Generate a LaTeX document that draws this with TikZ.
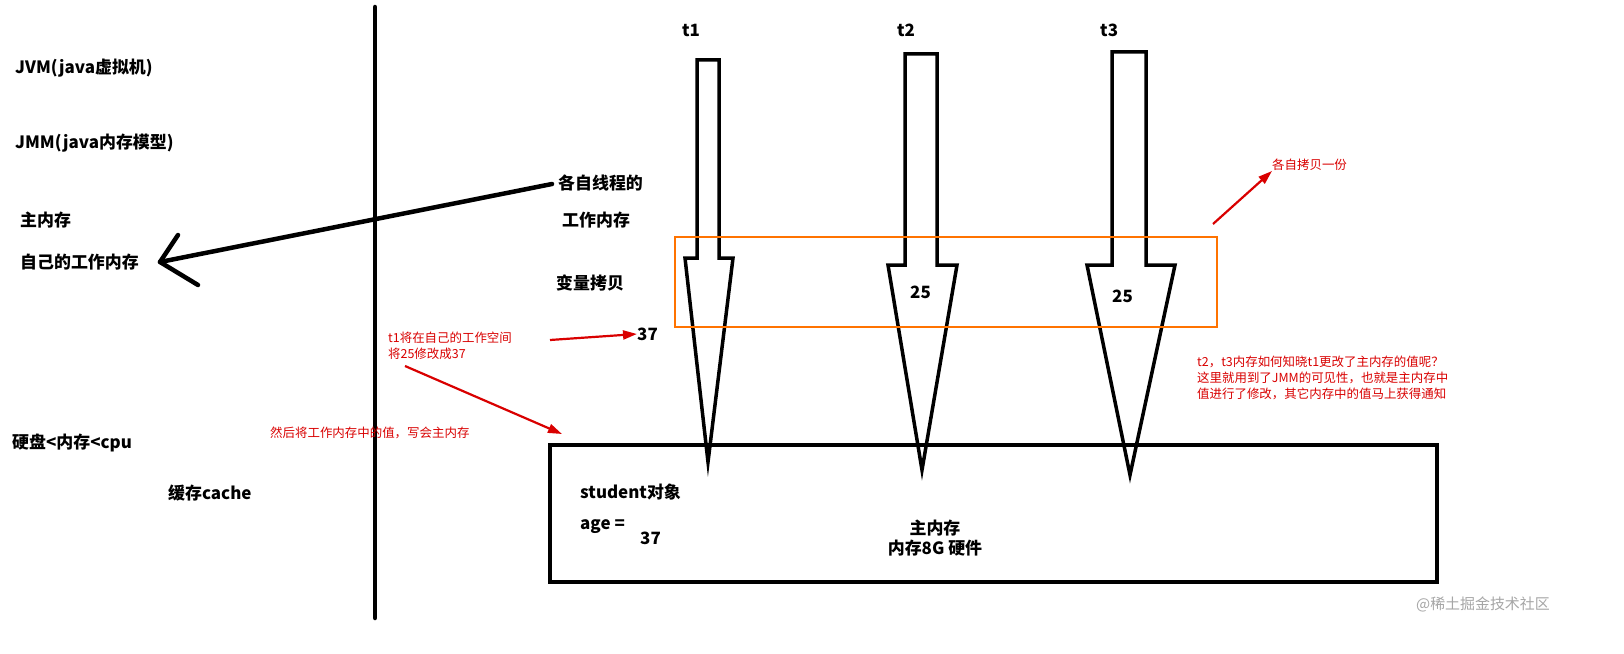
\documentclass[tikz,border=0pt]{standalone}
\usepackage{fontspec}
\setmainfont{Noto Sans CJK SC}
\newfontfamily\cjkb[BoldFont={Noto Sans CJK SC Bold}]{Noto Sans CJK SC}
\usetikzlibrary{arrows.meta}
\begin{document}
\begin{tikzpicture}[x=1bp,y=-1bp,
  lbl/.style={font=\fontsize{17}{20}\selectfont\bfseries,anchor=west,inner sep=0},
  rtx/.style={font=\fontsize{12.5}{16}\selectfont,text=red!85!black,anchor=west,inner sep=0,align=left},
  thick4/.style={line width=4.5bp,line join=round,line cap=round},
  thr/.style={line width=3.5bp,line join=miter},
  rarr/.style={draw=red!85!black,line width=2.2bp,-{Triangle[length=14bp,width=9bp]}}]
\useasboundingbox[fill=white] (0,0) rectangle (1624,654);
\draw[thick4] (375,7) -- (375,618);
\node[lbl] (jvm) at (15,68) {JVM(java虚拟机)};
\node[lbl] (jmm) at (15,143) {JMM(java内存模型)};
\node[lbl] (zn) at (20,220) {主内存};
\node[lbl] (zj) at (20,262) {自己的工作内存};
\node[lbl] (yp) at (12,443) {硬盘<内存<cpu};
\node[lbl] (hc) at (168,493) {缓存cache};
\node[lbl] (gz) at (558,183) {各自线程的};
\node[lbl] (gz2) at (562,220) {工作内存};
\node[lbl] (bl) at (556,283) {变量拷贝};
\coordinate (tip) at (160,262);
\draw[thick4] (552,184) -- (tip);
\draw[thick4] (178,235) -- (tip) -- (198,285);
% threads
\node[lbl] (t1) at (682,30) {t1};
\node[lbl] (t2) at (897,30) {t2};
\node[lbl] (t3) at (1100,30) {t3};
\draw[thr] (697,258) -- (697,60) -- (719,60) -- (719,258) -- (733,258) -- (708,462) -- (685,258) -- cycle;
\draw[thr] (905,265) -- (905,54) -- (937,54) -- (937,265) -- (957,265) -- (922,470) -- (888,265) -- cycle;
\draw[thr] (1112,265) -- (1112,52) -- (1146,52) -- (1146,265) -- (1175,265) -- (1130,475) -- (1087,265) -- cycle;
\draw[orange!90!red,line width=2bp] (675,237) rectangle (1217,327);
\node[lbl,fill=white,inner sep=2] (v2) at (908,292) {25};
\node[lbl,fill=white,inner sep=2] (v3) at (1110,296) {25};
\node[lbl] (v37) at (637,334) {37};
% red annotations
\node[rtx] (r1) at (388,346) {t1将在自己的工作空间\\将25修改成37};
\draw[rarr] (550,340) -- (v37.west);
\node[rtx] (r2) at (270,433) {然后将工作内存中的值，写会主内存};
\coordinate (r2e) at (562,434);
\draw[rarr] (405,366) -- (r2e);
\node[rtx] (r3) at (1272,165) {各自拷贝一份};
\draw[rarr] (1213,224) -- (r3.south west);
\node[rtx] (r4) at (1197,378) {t2，t3内存如何知晓t1更改了主内存的值呢？\\这里就用到了JMM的可见性，也就是主内存中\\值进行了修改，其它内存中的值马上获得通知};
% main memory
\draw[line width=4bp] (550,445) rectangle (1437,582);
\node[lbl] (stu) at (580,492) {student对象};
\node[lbl] (age) at (580,527) {age =};
\node[lbl] (a37) at (640,538) {37};
\node[font=\fontsize{17}{20}\selectfont\bfseries,align=center,inner sep=0] (mm) at (935,538) {主内存\\内存8G 硬件};
\node[font=\fontsize{15}{18}\selectfont,text=gray!70,anchor=east,inner sep=0] (wm) at (1550,604) {@稀土掘金技术社区};
\end{tikzpicture}
\end{document}
